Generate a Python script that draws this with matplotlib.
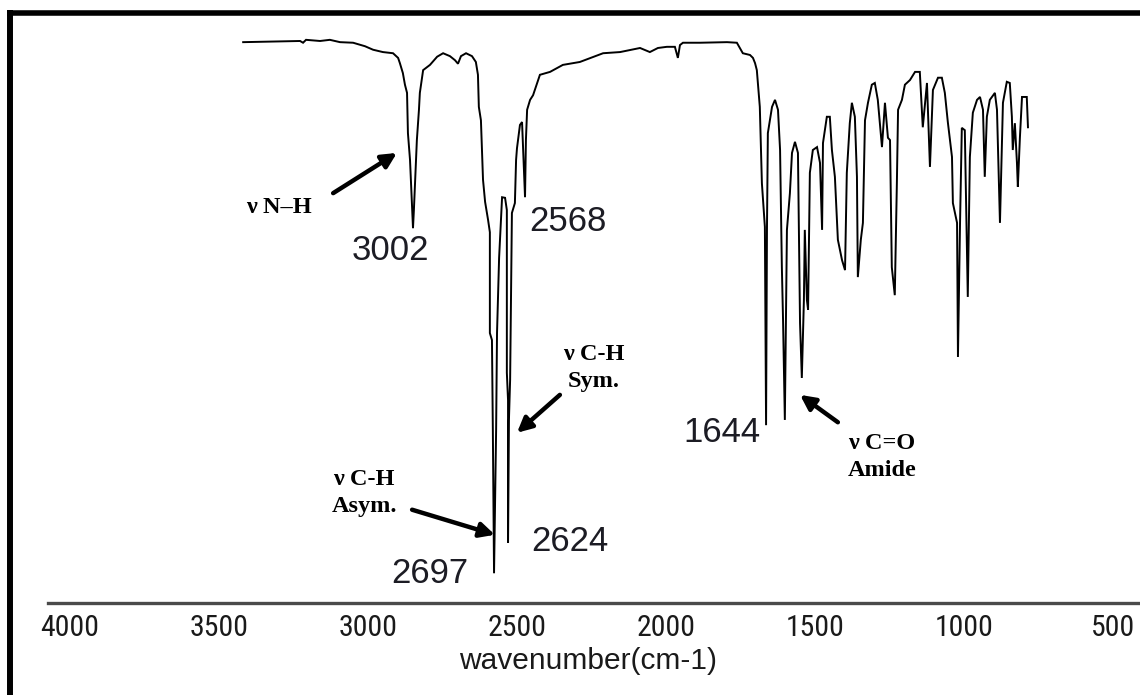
import matplotlib
matplotlib.use("Agg")
import matplotlib.pyplot as plt
from matplotlib import font_manager as fm
from matplotlib.lines import Line2D

# ---------------- data ----------------
wavenumber = [3419, 3228, 3218, 3208, 3161, 3128, 3094, 3050, 3010, 2983, 2950, 2916,
              2899, 2893, 2883, 2876, 2869, 2866, 2859, 2852, 2849, 2846, 2839, 2836,
              2829, 2826, 2815, 2792, 2768, 2748, 2725, 2708, 2698, 2688, 2671, 2651,
              2638, 2631, 2628, 2621, 2614, 2607, 2597, 2591, 2591, 2584, 2581, 2578,
              2577, 2570, 2567, 2560, 2557, 2550, 2540, 2534, 2534, 2530, 2530, 2527,
              2523, 2520, 2517, 2507, 2503, 2500, 2490, 2483, 2476, 2473, 2470, 2466,
              2456, 2446, 2423, 2389, 2346, 2289, 2211, 2154, 2087, 2054, 2027, 1997,
              1970, 1960, 1953, 1943, 1886, 1795, 1762, 1742, 1718, 1708, 1701, 1695,
              1685, 1678, 1668, 1664, 1661, 1658, 1644, 1634, 1624, 1617, 1611, 1607,
              1601, 1594, 1584, 1577, 1567, 1557, 1550, 1544, 1537, 1534, 1527, 1523,
              1517, 1507, 1493, 1483, 1476, 1473, 1460, 1450, 1443, 1433, 1423, 1409,
              1399, 1393, 1383, 1376, 1366, 1359, 1356, 1346, 1339, 1332, 1322, 1309,
              1299, 1289, 1275, 1265, 1255, 1248, 1242, 1232, 1225, 1221, 1208, 1198,
              1181, 1164, 1148, 1141, 1138, 1124, 1114, 1104, 1087, 1074, 1064, 1054,
              1040, 1037, 1023, 1020, 1013, 1007, 997, 990, 987, 980, 970, 956,
              946, 936, 930, 923, 913, 896, 889, 879, 869, 856, 846, 839,
              836, 829, 822, 819, 812, 805, 789, 785]
transmittance = [96.2, 96.4, 96.1, 96.6, 96.4, 96.6, 96.2, 96.1, 95.5, 94.9, 94.5, 94.3,
                 93.5, 92.6, 90.9, 88.9, 87.5, 80.6, 76.0, 67.9, 64.3, 67.4, 76.0, 79.4,
                 84.6, 87.5, 91.4, 92.3, 93.7, 94.3, 93.8, 93.1, 92.5, 93.8, 94.3, 93.8,
                 92.8, 90.6, 85.1, 82.8, 72.6, 68.8, 65.7, 63.6, 46.3, 45.1, 29.7, 11.7,
                 5.1, 29.7, 46.3, 59.2, 62.3, 69.6, 69.5, 67.4, 39.5, 34.8, 10.3, 31.4,
                 38.3, 52.0, 66.9, 68.6, 76.0, 78.0, 82.0, 82.5, 73.4, 69.6, 79.4, 84.6,
                 86.3, 87.1, 90.6, 91.1, 92.3, 92.8, 94.3, 94.5, 95.2, 94.5, 95.2, 95.4,
                 95.4, 93.5, 95.7, 96.1, 96.1, 96.2, 96.1, 94.3, 94.0, 93.5, 92.6, 91.4,
                 85.1, 72.0, 64.5, 30.5, 64.0, 80.6, 85.1, 86.3, 84.6, 77.7, 57.6, 48.5,
                 31.4, 64.0, 70.3, 77.2, 79.1, 77.2, 48.0, 38.6, 52.0, 64.0, 52.0, 50.3,
                 73.8, 77.7, 78.2, 75.5, 64.0, 78.9, 83.4, 83.4, 77.7, 73.1, 62.3, 58.8,
                 57.1, 73.8, 82.3, 85.8, 83.4, 73.1, 55.9, 62.3, 65.2, 82.8, 85.8, 88.9,
                 89.2, 86.3, 78.2, 85.8, 79.8, 79.4, 57.6, 52.8, 72.0, 84.6, 86.3, 88.9,
                 89.7, 91.1, 91.1, 84.6, 81.6, 89.2, 74.8, 88.0, 90.1, 90.1, 87.5, 82.5,
                 76.5, 68.6, 65.2, 42.2, 65.2, 81.5, 81.1, 61.1, 52.5, 76.5, 84.1, 86.3,
                 86.8, 84.6, 73.1, 83.4, 86.3, 87.5, 84.6, 65.2, 85.8, 89.4, 89.2, 83.4,
                 77.7, 82.3, 75.5, 71.4, 79.9, 86.8, 86.8, 81.6]

tick_values = [4000, 3500, 3000, 2500, 2000, 1500, 1000, 500]
tick_labels = ["4000", "3500", "3000", "2500", "2000", "1500", "1000", "500"]

peak_labels = ["3002", "2568", "2624", "2697", "1644"]
peak_label_pos = [(2926, 60.5), (2329, 65.4), (2322, 10.6), (2792, 5.0), (1812, 29.2)]

band_texts = ["\u03bd N\u2013H", "\u03bd C-H\nSym.", "\u03bd C-H\nAsym.", "\u03bd C=O\nAmide"]
band_text_pos = [(3299, 67.8), (2242, 40.3), (3013, 18.9), (1275, 25.0)]
band_arrow_tail = [(3117, 70.3), (2356, 35.7), (2852, 16.0), (1423, 31.0)]
band_arrow_head = [(2903, 77.2), (2500, 29.2), (2574, 11.7), (1550, 35.7)]

# ---------------- fonts ----------------
names = {f.name for f in fm.fontManager.ttflist}
narrow = None
for cand in ["Liberation Sans Narrow", "Arial Narrow", "DejaVu Sans Condensed",
             "Roboto Condensed", "Open Sans Condensed"]:
    if cand in names:
        narrow = cand
        break
tick_font = dict(family=[narrow] if narrow else ["Liberation Sans"],
                 stretch="condensed")
sans = ["Liberation Sans", "DejaVu Sans"]
serif = ["Liberation Serif", "DejaVu Serif"]

# ---------------- figure ----------------
W, H = 1140, 695
fig = plt.figure(figsize=(W / 100, H / 100), dpi=100)
ax = fig.add_axes([48 / W, 92 / H, 1092 / W, 583 / H])
ax.set_xlim(4074, 409)
ax.set_ylim(0, 100)

ax.plot(wavenumber, transmittance, color="black", lw=1.4, solid_joinstyle="miter")

for s in ["top", "left", "right"]:
    ax.spines[s].set_visible(False)
ax.spines["bottom"].set_color("#4a4a4a")
ax.spines["bottom"].set_linewidth(2.4)
ax.set_yticks([])
ax.set_xticks(tick_values)
ax.set_xticklabels(tick_labels, fontsize=21.5, color="#1a1a1a", **tick_font)
ax.tick_params(axis="x", length=0, pad=8)

fig.text(588 / W, 1 - 661 / H, "wavenumber(cm-1)", ha="center", va="center",
         fontsize=21.5, color="#1a1a1a", family=sans)

for lab, (x, y) in zip(peak_labels, peak_label_pos):
    ax.text(x, y, lab, ha="center", va="center", fontsize=25, color="#1c1c24",
            family=sans)

for txt, (x, y), tail, head in zip(band_texts, band_text_pos, band_arrow_tail, band_arrow_head):
    ax.text(x, y, txt, ha="center", va="center", fontsize=17.5, fontweight="bold",
            family=serif, linespacing=1.35, color="black")
    ax.annotate("", xy=head, xytext=tail,
                arrowprops=dict(arrowstyle="-|>", color="black", lw=3.2,
                                mutation_scale=22, shrinkA=0, shrinkB=0))

# outer border (top and left visible)
fig.add_artist(Line2D([7 / W, 1.0], [1 - 12.5 / H, 1 - 12.5 / H], color="black", lw=4,
                      transform=fig.transFigure, solid_capstyle="butt"))
fig.add_artist(Line2D([10 / W, 10 / W], [0, 1 - 10 / H], color="black", lw=4.3,
                      transform=fig.transFigure, solid_capstyle="butt"))

fig.savefig("out.png", dpi=100)
